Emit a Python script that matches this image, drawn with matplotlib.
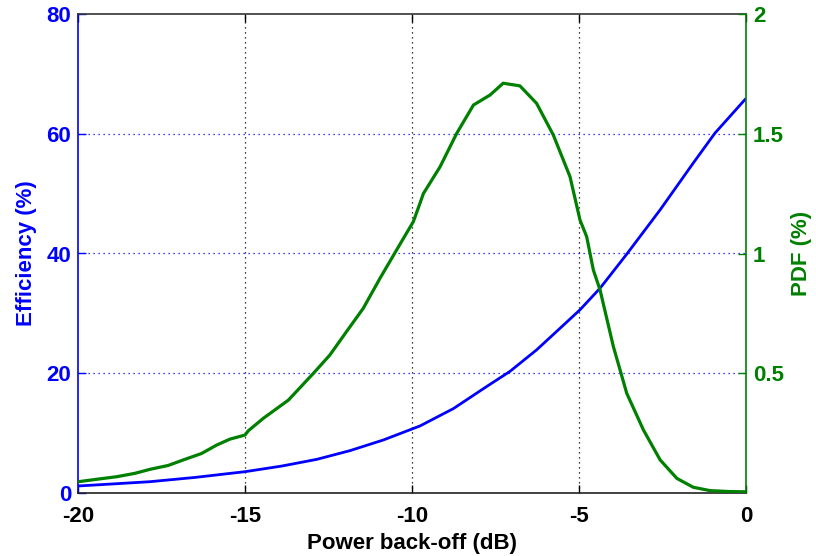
import matplotlib
matplotlib.use("Agg")
import matplotlib.pyplot as plt

# Data
eff_x = [-20, -19, -17.84, -16.5, -15, -13.9, -12.85, -11.86, -10.86, -9.76,
         -8.76, -7.76, -7.07, -6.27, -5.57, -4.97, -4.37, -3.57, -2.57, -1.58,
         -0.93, 0]
eff_y = [1.17, 1.5, 1.89, 2.6, 3.56, 4.5, 5.62, 7.07, 8.85, 11.2,
         14.1, 17.8, 20.3, 23.9, 27.5, 30.6, 34.2, 39.9, 47.3, 55.1,
         60.1, 65.9]

pdf_x = [-20.0, -19.4, -18.84, -18.3, -17.84, -17.3, -16.85, -16.3, -15.85,
         -15.45, -15.0, -14.9, -14.45, -13.70, -12.95, -12.46, -11.96, -11.46,
         -10.96, -10.46, -9.96, -9.76, -9.66, -9.16, -8.66, -8.16, -7.66,
         -7.27, -6.77, -6.27, -5.77, -5.27, -4.97, -4.77, -4.57, -4.37, -3.97,
         -3.57, -3.07, -2.57, -2.07, -1.58, -1.08, -0.5, 0.0]
pdf_y = [0.047, 0.058, 0.068, 0.082, 0.099, 0.115, 0.138, 0.165, 0.200,
         0.225, 0.242, 0.26, 0.312, 0.388, 0.500, 0.576, 0.674, 0.771,
         0.896, 1.015, 1.133, 1.21, 1.25, 1.362, 1.502, 1.62, 1.662,
         1.711, 1.70, 1.627, 1.495, 1.321, 1.14, 1.07, 0.931, 0.848, 0.611,
         0.416, 0.263, 0.138, 0.061, 0.024, 0.010, 0.006, 0.005]

x_ticks = [-20, -15, -10, -5, 0]
x_ticklabels = ["-20", "-15", "-10", "-5", "0"]
eff_ticks = [0, 20, 40, 60, 80]
pdf_ticks = [0.5, 1, 1.5, 2]
pdf_ticklabels = ["0.5", "1", "1.5", "2"]

BLUE = "#0000FF"
GREEN = "#008000"
FONT = "Liberation Sans"
FS = 16

plt.rcParams["font.family"] = [FONT, "DejaVu Sans"]
plt.rcParams["font.weight"] = "bold"

fig = plt.figure(figsize=(8.16, 5.56), dpi=100)
ax = fig.add_axes([78 / 816, 63 / 556, 668 / 816, 479 / 556])
ax2 = ax.twinx()

ax.plot(eff_x, eff_y, color=BLUE, lw=2.0, solid_capstyle="butt")
ax2.plot(pdf_x, pdf_y, color=GREEN, lw=2.3)

ax.set_xlim(-20, 0)
ax.set_ylim(0, 80)
ax2.set_ylim(0, 2)

ax.set_xticks(x_ticks)
ax.set_xticklabels(x_ticklabels)
ax.set_yticks(eff_ticks)
ax2.set_yticks(pdf_ticks)
ax2.set_yticklabels(pdf_ticklabels)

# Grids
for xv in x_ticks[1:-1]:
    ax.axvline(xv, color="black", lw=0.9, ls=(0, (1, 3)), zorder=0)
for yv in eff_ticks[1:-1]:
    ax.axhline(yv, color=BLUE, lw=0.9, ls=(0, (1, 3)), zorder=0)

# Spines
ax.spines["left"].set_color(BLUE)
ax.spines["bottom"].set_color("#222222")
ax.spines["top"].set_color("#333333")
ax.spines["right"].set_visible(False)
ax2.spines["left"].set_visible(False)
ax2.spines["top"].set_visible(False)
ax2.spines["bottom"].set_visible(False)
ax2.spines["right"].set_color(GREEN)
for sp in list(ax.spines.values()) + list(ax2.spines.values()):
    sp.set_linewidth(1.2)

ax.tick_params(axis="x", direction="in", top=True, length=6, width=1,
               colors="black", labelsize=FS, pad=9)
ax.tick_params(axis="y", direction="in", length=6, width=1,
               colors=BLUE, labelsize=FS, pad=5)
ax2.tick_params(axis="y", direction="in", length=6, width=1,
                colors=GREEN, labelsize=FS, pad=5)
for lab in ax.get_xticklabels() + ax.get_yticklabels() + ax2.get_yticklabels():
    lab.set_fontweight("bold")

ax.set_xlabel("Power back-off (dB)", fontsize=FS, fontweight="bold",
              color="black", labelpad=5)
ax.set_ylabel("Efficiency (%)", fontsize=FS, fontweight="bold",
              color=BLUE, labelpad=7)
ax2.set_ylabel("PDF (%)", fontsize=FS, fontweight="bold",
               color=GREEN, labelpad=5)

fig.savefig("out.png", dpi=100)
